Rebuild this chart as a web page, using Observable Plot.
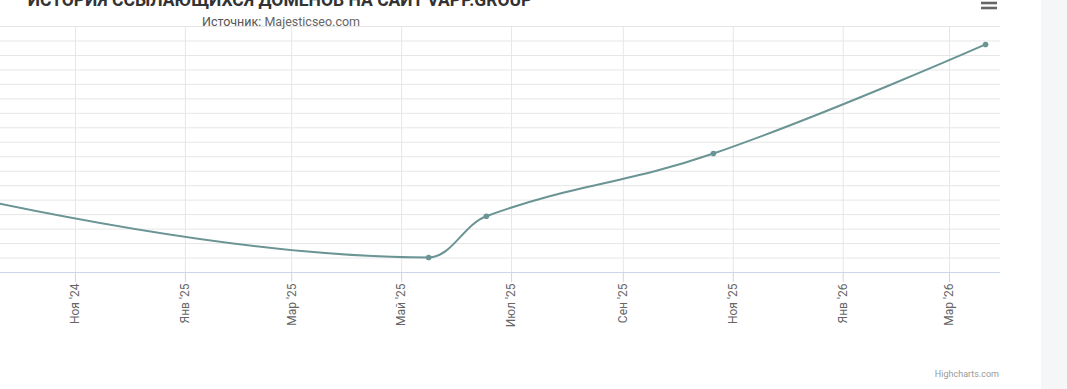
<!DOCTYPE html>
<html>
<head>
<meta charset="utf-8">
<script src="https://cdn.jsdelivr.net/npm/d3@7"></script>
<script src="https://cdn.jsdelivr.net/npm/@observablehq/plot@0.6"></script>
<style>
  html, body { margin: 0; padding: 0; background: #fff; }
  #wrap { position: relative; width: 1067px; height: 389px; overflow: hidden; background: #fff; }
  #band { position: absolute; left: 1041px; top: 0; width: 26px; height: 389px; background: #f5f6f8; }
  #chart { position: absolute; left: 0; top: 0; }
  #overlay { position: absolute; left: 0; top: 0; pointer-events: none; }
</style>
</head>
<body>
<div id="wrap">
  <div id="band"></div>
  <div id="chart"></div>
  <svg id="overlay" width="1067" height="389"></svg>
</div>
<script>
// ---- data ----
const titleText = "ИСТОРИЯ ССЫЛАЮЩИХСЯ ДОМЕНОВ НА САЙТ VAPP.GROUP";
const sourceLabel = "Источник:";
const sourceName = "Majesticseo.com";
const creditText = "Highcharts.com";

const dates = ["2024-04-07", "2025-05-16", "2025-06-17", "2025-10-21", "2026-03-21"];
const values = [97.7, 10.4, 38.9, 82.2, 157.6];

const tickDates = ["2024-11-01", "2025-01-01", "2025-03-01", "2025-05-01", "2025-07-01",
                   "2025-09-01", "2025-11-01", "2026-01-01", "2026-03-01"];
const tickLabels = ["Ноя '24", "Янв '25", "Мар '25", "Май '25", "Июл '25",
                    "Сен '25", "Ноя '25", "Янв '26", "Мар '26"];
const yGrid = [10, 20, 30, 40, 50, 60, 70, 80, 90, 100, 110, 120, 130, 140, 150, 160, 170];
const xDomain = ["2024-09-20T10:00:00Z", "2026-03-29T07:00:00Z"];
const yDomain = [0, 170];

// ---- Highcharts-like spline curve (d3 curve interface) ----
function splineCurve(context) {
  let pts;
  return {
    areaStart() {}, areaEnd() {},
    lineStart() { pts = []; },
    point(x, y) { pts.push([+x, +y]); },
    lineEnd() {
      const n = pts.length;
      if (!n) return;
      const s = 1.5, den = s + 1;
      const lc = new Array(n), rc = new Array(n);
      for (let i = 1; i < n - 1; i++) {
        const [px, py] = pts[i], [lx, ly] = pts[i - 1], [nx, ny] = pts[i + 1];
        const lcx = (s * px + lx) / den;
        let lcy = (s * py + ly) / den;
        const rcx = (s * px + nx) / den;
        let rcy = (s * py + ny) / den;
        let corr = 0;
        if (rcx !== lcx) corr = ((rcy - lcy) * (rcx - px)) / (rcx - lcx) + py - rcy;
        lcy += corr; rcy += corr;
        if (lcy > ly && lcy > py) { lcy = Math.max(ly, py); rcy = 2 * py - lcy; }
        else if (lcy < ly && lcy < py) { lcy = Math.min(ly, py); rcy = 2 * py - lcy; }
        if (rcy > ny && rcy > py) { rcy = Math.max(ny, py); lcy = 2 * py - rcy; }
        else if (rcy < ny && rcy < py) { rcy = Math.min(ny, py); lcy = 2 * py - rcy; }
        lc[i] = [lcx, lcy]; rc[i] = [rcx, rcy];
      }
      context.moveTo(pts[0][0], pts[0][1]);
      for (let i = 1; i < n; i++) {
        const a = rc[i - 1] || pts[i - 1];
        const b = lc[i] || pts[i];
        context.bezierCurveTo(a[0], a[1], b[0], b[1], pts[i][0], pts[i][1]);
      }
    }
  };
}

// ---- build ----
const data = dates.map((d, i) => ({date: new Date(d), value: values[i]}));
const tickD = tickDates.map(d => new Date(d));
const labelOf = new Map(tickD.map((d, i) => [+d, tickLabels[i]]));
const lineColor = "#6b9494";

const chart = Plot.plot({
  width: 1000,
  height: 389,
  marginTop: 26,
  marginBottom: 117,
  marginLeft: 0,
  marginRight: 0,
  style: {fontFamily: "Roboto, sans-serif", fontSize: "12px", background: "transparent", overflow: "visible"},
  x: {type: "utc", domain: xDomain.map(d => new Date(d))},
  y: {domain: yDomain},
  marks: [
    Plot.gridY(yGrid, {stroke: "#e6e6e6", strokeOpacity: 1}),
    Plot.gridX(tickD, {stroke: "#e6e6e6", strokeOpacity: 1}),
    Plot.ruleY([0], {stroke: "#ccd6eb"}),
    Plot.axisX(tickD, {
      tickSize: 10, tickPadding: 1, tickRotate: -90,
      tickFormat: d => labelOf.get(+d),
      stroke: "#ccd6eb", strokeOpacity: 1, fill: "#666", label: null
    }),
    Plot.axisY({ticks: [], label: null}),
    Plot.line(data, {x: "date", y: "value", curve: splineCurve, stroke: lineColor, strokeWidth: 2, clip: true}),
    Plot.dot(data, {x: "date", y: "value", r: 2.8, fill: lineColor, stroke: "none", clip: true})
  ]
});
document.getElementById("chart").appendChild(chart);

// ---- overlay texts ----
const ov = d3.select("#overlay");
ov.append("text")
  .attr("x", 280).attr("y", 5.5)
  .attr("text-anchor", "middle")
  .attr("font-family", "Roboto, sans-serif")
  .attr("font-weight", "bold")
  .attr("font-size", 17.5)
  .attr("fill", "#333")
  .text(titleText);
const sub = ov.append("text")
  .attr("x", 281).attr("y", 26)
  .attr("text-anchor", "middle")
  .attr("font-family", "Roboto, sans-serif")
  .attr("font-size", 12.5)
  .attr("fill", "#666");
sub.append("tspan").attr("fill", "#555").text(sourceLabel + " ");
sub.append("tspan").text(sourceName);
ov.append("text")
  .attr("x", 999).attr("y", 377)
  .attr("text-anchor", "end")
  .attr("font-family", "Roboto, sans-serif")
  .attr("font-size", 9)
  .attr("fill", "#999")
  .text(creditText);
[-2, 3, 8].forEach(y => {
  ov.append("line").attr("x1", 981).attr("x2", 997).attr("y1", y).attr("y2", y)
    .attr("stroke", "#666").attr("stroke-width", 2.6);
});
</script>
</body>
</html>
